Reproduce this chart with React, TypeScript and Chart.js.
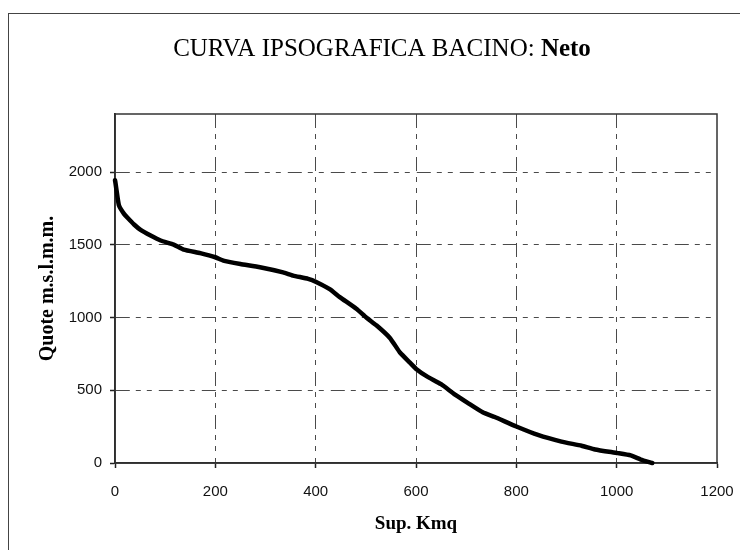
import React, { useEffect, useRef } from "react";
import { Chart, registerables } from "chart.js";

Chart.register(...registerables);

// Superficie cumulata (Kmq) e quota (m s.l.m.m.)
const areaKmq = [0, 1, 5, 8, 18, 25, 38, 51, 71, 91, 117, 137, 170, 200, 216, 250, 289, 335, 355, 385, 401, 428, 448, 481, 501, 521, 548, 568, 588, 601, 621, 650, 677, 703, 733, 757, 800, 843, 890, 930, 957, 1002, 1028, 1048, 1071];
const quotaM = [1945, 1925, 1828, 1771, 1713, 1686, 1640, 1603, 1564, 1530, 1502, 1468, 1443, 1415, 1392, 1369, 1346, 1311, 1289, 1266, 1245, 1195, 1141, 1061, 1000, 947, 860, 760, 690, 645, 597, 542, 472, 414, 349, 316, 251, 193, 147, 119, 93, 68, 52, 24, 0];

const xTickValues = [0, 200, 400, 600, 800, 1000, 1200];
const yTickValues = [0, 500, 1000, 1500, 2000];

const titleMain = "CURVA IPSOGRAFICA BACINO: ";
const titleBasin = "Neto";
const xAxisTitle = "Sup. Kmq";
const yAxisTitle = "Quote m.s.l.m.m.";

const W = 740;
const H = 550;
const GRID_DASH = [14, 6, 5, 6, 5, 7];

export default function App() {
  const ref = useRef<HTMLCanvasElement | null>(null);

  useEffect(() => {
    if (!ref.current) return;

    const framePlugin = {
      id: "plotFrame",
      beforeDatasetsDraw(chart: any) {
        const { ctx, chartArea } = chart;
        ctx.save();
        ctx.strokeStyle = "#333";
        ctx.lineWidth = 1.5;
        ctx.strokeRect(chartArea.left, chartArea.top, chartArea.right - chartArea.left, chartArea.bottom - chartArea.top);
        ctx.restore();
      },
    };

    const titlePlugin = {
      id: "mixedTitle",
      afterDraw(chart: any) {
        const { ctx } = chart;
        ctx.save();
        ctx.fillStyle = "#000";
        ctx.textBaseline = "alphabetic";
        const f1 = '25px "Liberation Serif"';
        const f2 = 'bold 25px "Liberation Serif"';
        ctx.font = f1;
        const w1 = ctx.measureText(titleMain).width;
        ctx.font = f2;
        const w2 = ctx.measureText(titleBasin).width;
        const cx = 382;
        const x0 = cx - (w1 + w2) / 2;
        const y = 56;
        ctx.font = f1;
        ctx.fillText(titleMain, x0, y);
        ctx.font = f2;
        ctx.fillText(titleBasin, x0 + w1, y);
        ctx.restore();
      },
    };

    const hideEdge = (edges: number[], col: string) => (c: any) =>
      c.tick && edges.includes(c.tick.value) ? "rgba(0,0,0,0)" : col;

    const chart = new Chart(ref.current, {
      type: "scatter",
      data: {
        datasets: [
          {
            data: areaKmq.map((x, i) => ({ x, y: quotaM[i] })),
            showLine: true,
            borderColor: "#000",
            borderWidth: 4.5,
            pointRadius: 0,
            tension: 0.15,
            borderCapStyle: "round",
            borderJoinStyle: "round",
            clip: 6,
          } as any,
        ],
      },
      options: {
        animation: false,
        responsive: false,
        devicePixelRatio: 1,
        layout: { padding: { top: 114, right: 23, bottom: 0, left: 0 } },
        plugins: {
          legend: { display: false },
          tooltip: { enabled: false },
          title: { display: false },
        },
        scales: {
          x: {
            type: "linear",
            min: 0,
            max: 1200,
            afterBuildTicks: (s: any) => {
              s.ticks = xTickValues.map((v) => ({ value: v }));
            },
            afterFit: (s: any) => {
              s.height = 87;
              s.paddingLeft = 0;
              s.paddingRight = 0;
            },
            ticks: {
              color: "#111",
              font: { family: '"Liberation Sans", Arial', size: 15 },
              padding: 15,
              maxRotation: 0,
              autoSkip: false,
              callback: (v: any) => String(v),
            },
            grid: {
              color: hideEdge([0, 1200], "#4a4a4a"),
              lineWidth: 1,
              drawTicks: true,
              tickLength: 5,
              tickColor: "#222",
              tickWidth: 1.5,
              tickBorderDash: [],
            },
            border: { display: true, color: "#222", width: 1.8, dash: GRID_DASH },
            title: {
              display: true,
              text: xAxisTitle,
              color: "#000",
              font: { family: '"Liberation Serif"', size: 19, weight: "bold" },
              padding: { top: 0, bottom: 15 },
            },
          },
          y: {
            type: "linear",
            min: 0,
            max: 2400,
            afterBuildTicks: (s: any) => {
              s.ticks = yTickValues.map((v) => ({ value: v }));
            },
            afterFit: (s: any) => {
              s.width = 115;
            },
            ticks: {
              color: "#111",
              font: { family: '"Liberation Sans", Arial', size: 15 },
              padding: 8,
              autoSkip: false,
              callback: (v: any) => String(v),
            },
            grid: {
              color: hideEdge([0], "#4a4a4a"),
              lineWidth: 1,
              drawTicks: true,
              tickLength: 5,
              tickColor: "#222",
              tickWidth: 1.5,
              tickBorderDash: [],
            },
            border: { display: true, color: "#222", width: 1.8, dash: GRID_DASH },
            title: {
              display: true,
              text: yAxisTitle,
              color: "#000",
              font: { family: '"Liberation Serif"', size: 20, weight: "bold" },
              padding: { top: 36, bottom: 0 },
            },
          },
        },
      },
      plugins: [framePlugin, titlePlugin],
    });

    return () => chart.destroy();
  }, []);

  return (
    <div style={{ position: "fixed", left: 0, top: 0, width: W, height: H, background: "#fff", overflow: "hidden" }}>
      <div
        style={{
          position: "absolute",
          left: 8,
          top: 13,
          width: W,
          height: H,
          borderLeft: "1.5px solid #444",
          borderTop: "1.5px solid #444",
          boxSizing: "border-box",
        }}
      />
      <canvas ref={ref} width={W} height={H} style={{ position: "absolute", left: 0, top: 0, width: W, height: H }} />
    </div>
  );
}
